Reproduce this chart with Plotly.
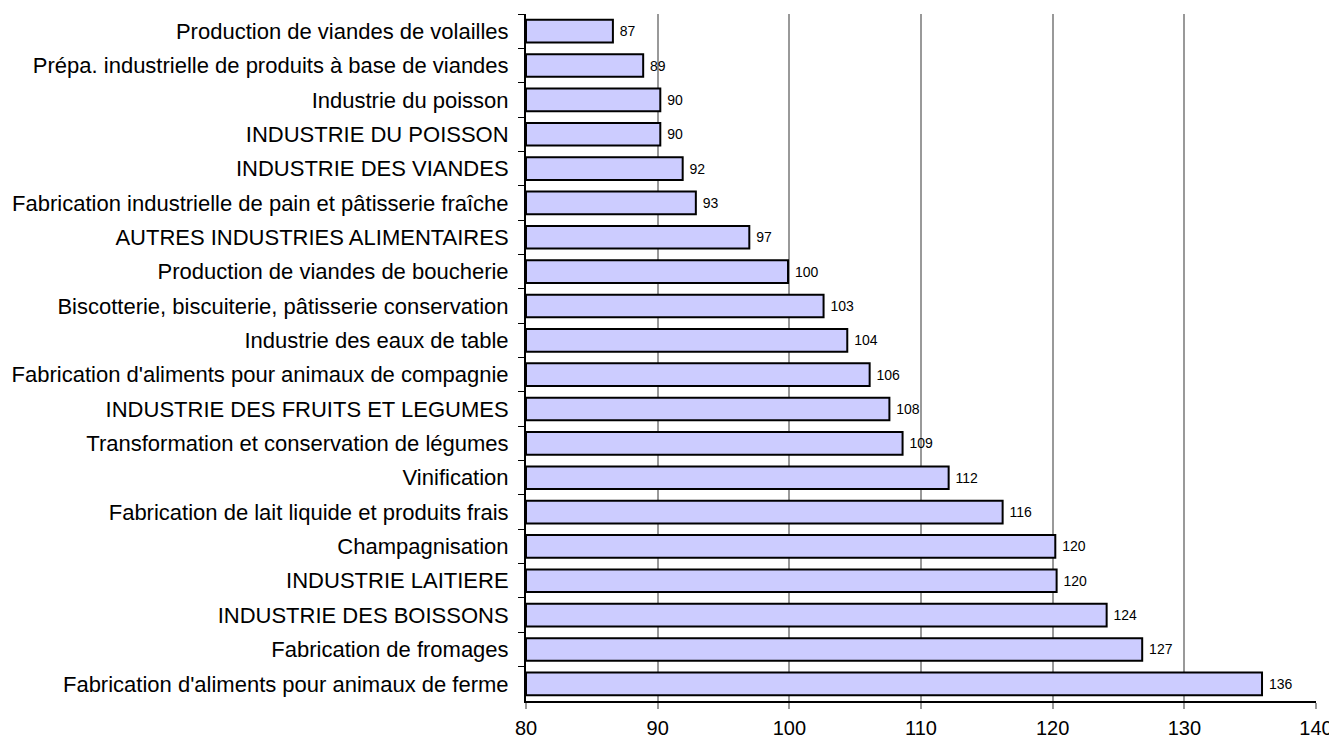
import plotly.graph_objects as go

categories = [
    "Production de viandes de volailles",
    "Prépa. industrielle de produits à base de viandes",
    "Industrie du poisson",
    "INDUSTRIE DU POISSON",
    "INDUSTRIE DES VIANDES",
    "Fabrication industrielle de pain et pâtisserie fraîche",
    "AUTRES INDUSTRIES ALIMENTAIRES",
    "Production de viandes de boucherie",
    "Biscotterie, biscuiterie, pâtisserie conservation",
    "Industrie des eaux de table",
    "Fabrication d'aliments pour animaux de compagnie",
    "INDUSTRIE DES FRUITS ET LEGUMES",
    "Transformation et conservation de légumes",
    "Vinification",
    "Fabrication de lait liquide et produits frais",
    "Champagnisation",
    "INDUSTRIE LAITIERE",
    "INDUSTRIE DES BOISSONS",
    "Fabrication de fromages",
    "Fabrication d'aliments pour animaux de ferme",
]
values = [86.6, 88.9, 90.2, 90.2, 91.9, 92.9, 96.96, 99.9, 102.6, 104.4,
          106.1, 107.6, 108.6, 112.1, 116.2, 120.2, 120.3, 124.1, 126.8, 135.9]
labels = [str(int(round(v))) for v in values]

axis_min, axis_max = 80, 140
x_ticks = [80, 90, 100, 110, 120, 130, 140]

fig = go.Figure()
fig.add_trace(go.Bar(
    y=categories,
    x=[v - axis_min for v in values],
    base=axis_min,
    orientation="h",
    width=0.66,
    marker=dict(color="#CCCCFF", line=dict(color="#000000", width=2)),
    text=labels,
    texttemplate=" %{text}",
    textposition="outside",
    constraintext="none",
    cliponaxis=False,
    textfont=dict(family="Liberation Sans, Arial", size=14, color="#000000"),
    hoverinfo="skip",
))

fig.update_layout(
    width=1329, height=734,
    margin=dict(l=518, r=21, t=6, b=41, autoexpand=False),
    paper_bgcolor="white", plot_bgcolor="white",
    showlegend=False,
    font=dict(family="Liberation Sans, Arial", color="#000000"),
    bargap=0.34,
)
fig.update_xaxes(
    range=[axis_min, axis_max],
    tickmode="array", tickvals=x_ticks, ticktext=[str(t) for t in x_ticks],
    showgrid=True, gridcolor="#999999", gridwidth=2,
    showline=True, linecolor="#000000", linewidth=2,
    ticks="outside", ticklen=6, tickcolor="#999999", tickwidth=2,
    ticklabelstandoff=2,
    tickfont=dict(size=20, color="#000000"),
    zeroline=False, fixedrange=True, automargin=False,
)
fig.update_yaxes(
    type="category",
    categoryorder="array", categoryarray=categories,
    autorange="reversed",
    tickson="boundaries",
    showgrid=False,
    showline=True, linecolor="#000000", linewidth=2,
    ticks="outside", ticklen=6, tickcolor="#000000", tickwidth=1,
    ticklabelstandoff=11,
    tickfont=dict(size=22, color="#000000"),
    fixedrange=True, automargin=False,
)

fig.write_html("out.html")
